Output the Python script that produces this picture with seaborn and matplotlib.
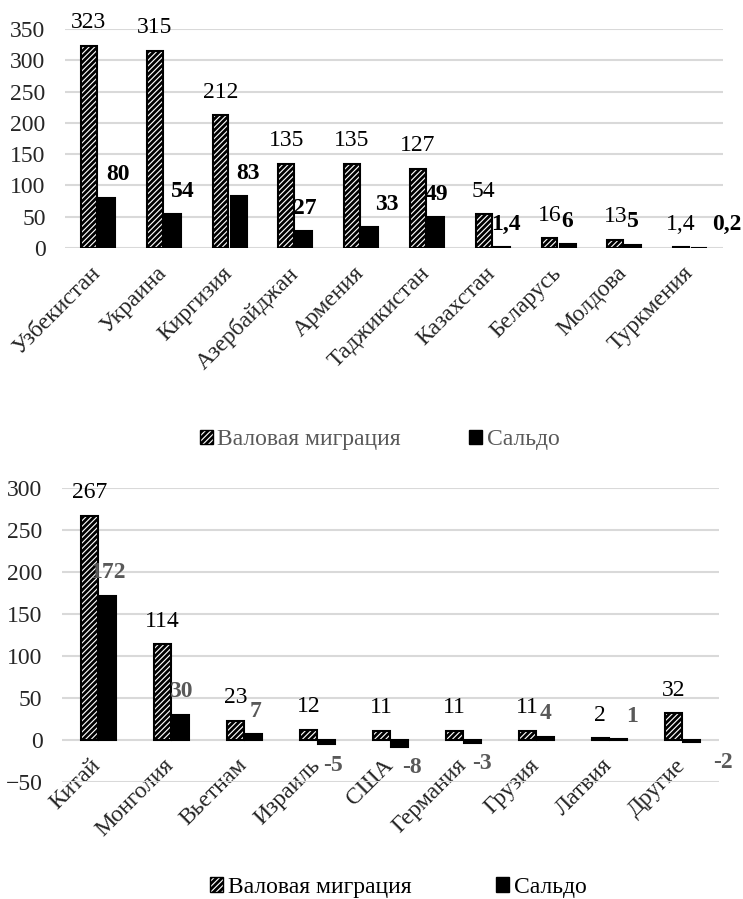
import pandas as pd
import seaborn as sns
import matplotlib.pyplot as plt
import matplotlib.transforms as mtransforms
from matplotlib.patches import Patch

sns.set_style('white')
plt.rcParams['font.family'] = ['Liberation Serif', 'DejaVu Serif']
plt.rcParams['hatch.linewidth'] = 2.0

series = ['Валовая миграция', 'Сальдо']

top_countries = ['Узбекистан', 'Украина', 'Киргизия', 'Азербайджан', 'Армения',
                 'Таджикистан', 'Казахстан', 'Беларусь', 'Молдова', 'Туркмения']
top_gross = [323, 315, 212, 135, 135, 127, 54, 16, 13, 1.4]
top_saldo = [80, 54, 83, 27, 33, 49, 1.4, 6, 5, 0.2]

bottom_countries = ['Китай', 'Монголия', 'Вьетнам', 'Израиль', 'США',
                    'Германия', 'Грузия', 'Латвия', 'Другие']
bottom_gross = [267, 114, 23, 12, 11, 11, 11, 2, 32]
bottom_saldo = [172, 30, 7, -5, -8, -3, 4, 1, -2]

# horizontal nudges of the saldo labels (pixels), as placed in the original
top_nudge = [11, 10, 9, 0, 17, 0, 4, 0, 0, 28]
bottom_nudge = [0, 0, 2, 6, 12, 9, 0, 13, 31]

PX = 0.72  # points per pixel at dpi 100
FS = 17


def fmt(v):
    if float(v).is_integer():
        return str(int(v))
    return str(v).replace('.', ',')


def draw(ax, countries, gross, saldo, ylim, step, saldo_color, nudge, width, gap):
    df = pd.DataFrame({
        'Страна': countries * 2,
        'Ряд': [series[0]] * len(countries) + [series[1]] * len(countries),
        'Значение': gross + saldo,
    })
    sns.barplot(data=df, x='Страна', y='Значение', hue='Ряд', order=countries,
                hue_order=series, palette={series[0]: 'white', series[1]: 'black'},
                edgecolor='black', linewidth=1.5, width=width, gap=gap,
                saturation=1, errorbar=None, legend=False, ax=ax)
    for bar in ax.containers[0]:
        bar.set_hatch('//////')

    for bar, v in zip(ax.containers[0], gross):
        ax.annotate(fmt(v), (bar.get_x() + bar.get_width() / 2, v),
                    xytext=(0, 23 * PX), textcoords='offset points',
                    ha='center', va='center', fontsize=FS, color='black')
    for bar, v, dx in zip(ax.containers[1], saldo, nudge):
        dy = 23 if v >= 0 else -21
        ax.annotate(fmt(v), (bar.get_x() + bar.get_width() / 2, v),
                    xytext=(dx * PX, dy * PX), textcoords='offset points',
                    ha='center', va='center', fontsize=FS, fontweight='bold',
                    color=saldo_color, annotation_clip=False)

    ax.set_ylim(*ylim)
    ax.set_yticks(range(ylim[0], ylim[1] + 1, step))
    ax.set_xlabel('')
    ax.set_ylabel('')
    ax.yaxis.grid(True, color='#d9d9d9', linewidth=1.5)
    ax.set_axisbelow(True)
    for s in ax.spines.values():
        s.set_visible(False)
    ax.tick_params(axis='y', length=0, labelsize=FS, pad=14)
    ax.tick_params(axis='x', length=0, labelsize=FS, pad=12)

    # category labels sit next to the zero line, as in Excel
    ax.figure.canvas.draw()
    zero_px = ax.transData.transform((0, 0))[1]
    bottom_px = ax.transAxes.transform((0, 0))[1]
    lift = (zero_px - bottom_px) / ax.figure.dpi
    shift = mtransforms.ScaledTranslation(-8 / 100, 2 / 100 + lift, ax.figure.dpi_scale_trans)
    for lab in ax.get_xticklabels():
        lab.set_rotation(45)
        lab.set_ha('right')
        lab.set_va('top')
        lab.set_rotation_mode('anchor')
        lab.set_transform(lab.get_transform() + shift)


fig = plt.figure(figsize=(7.43, 8.99), dpi=100)
ax1 = fig.add_axes([0.0875, 0.7241, 0.8856, 0.2436])
ax2 = fig.add_axes([0.0834, 0.1301, 0.8843, 0.3270])

draw(ax1, top_countries, top_gross, top_saldo, (0, 350), 50, 'black', top_nudge, 0.55, 0.12)
draw(ax2, bottom_countries, bottom_gross, bottom_saldo, (-50, 300), 50, '#595959', bottom_nudge, 0.5, 0.1)

handles = [Patch(facecolor='white', edgecolor='black', hatch='//////'),
           Patch(facecolor='black', edgecolor='black')]
fig.legend(handles, series, loc='center', bbox_to_anchor=(0.511, 0.5106), ncol=2,
           frameon=False, fontsize=FS, handlelength=0.55, handleheight=0.55,
           handletextpad=0.2, columnspacing=2.9, labelcolor='#595959')
fig.legend(handles, series, loc='center', bbox_to_anchor=(0.536, 0.013), ncol=2,
           frameon=False, fontsize=FS, handlelength=0.55, handleheight=0.55,
           handletextpad=0.2, columnspacing=3.6, labelcolor='black')

fig.savefig('out.png', dpi=100)
